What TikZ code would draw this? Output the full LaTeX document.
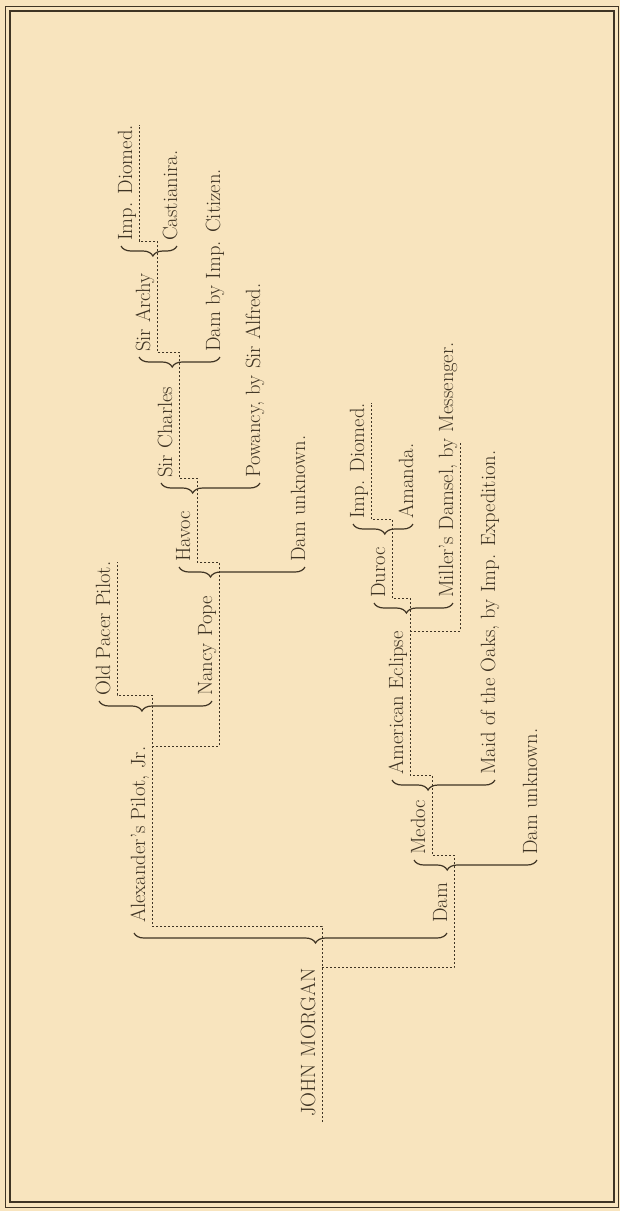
\documentclass[tikz,border=0pt]{standalone}
\usepackage{tikz}
\usetikzlibrary{positioning, calc, decorations.pathreplacing}
\definecolor{paper}{HTML}{F8E4BE}
\definecolor{ink}{HTML}{3F3424}

\begin{document}
\begin{tikzpicture}[x=1pt, y=-1pt,
                horse/.style={rotate=90, anchor=base west, inner sep=0pt, text=ink, font=\fontsize{20.6}{24}\selectfont},
                pedbrace/.style={draw=ink, line width=1.2pt, decorate, decoration={brace, amplitude=10pt, aspect=#1}},
                trace/.style={draw=ink, line width=1pt, dash pattern=on 2pt off 2pt},
                frame/.style={draw=ink}
            ]

            \fill[paper] (0,0) rectangle (620,1211);
            \useasboundingbox (0,0) rectangle (620,1211);
            \draw[frame, line width=0.7pt] (5,6) rectangle (618,1207);
            \draw[frame, line width=1.3pt] (10,11) rectangle (614,1202);

            % Namen
            \node[horse] (jm) at (315,1117) {JOHN MORGAN};
            \node[horse] (alex) at (145,923) {Alexander's Pilot, Jr.};
            \node[horse] (dam) at (447,923) {Dam};
            \node[horse] (oldpacer) at (110,696) {Old Pacer Pilot.};
            \node[horse] (nancy) at (212,696) {Nancy Pope};
            \node[horse] (havoc) at (190,562) {Havoc};
            \node[horse] (damunk) at (305,562) {Dam unknown.};
            \node[horse] (charles) at (172,478) {Sir Charles};
            \node[horse] (powancy) at (260,478) {Powancy, by Sir Alfred.};
            \node[horse] (archy) at (150,352) {Sir Archy};
            \node[horse] (citizen) at (220,352) {Dam by Imp. Citizen.};
            \node[horse] (diomeda) at (132,241) {Imp. Diomed.};
            \node[horse] (castianira) at (177,241) {Castianira.};
            \node[horse] (medoc) at (425,855) {Medoc};
            \node[horse] (damunkb) at (537,855) {Dam unknown.};
            \node[horse] (eclipse) at (403,775) {American Eclipse};
            \node[horse] (maid) at (495,775) {Maid of the Oaks, by Imp. Expedition.};
            \node[horse] (duroc) at (385,598) {Duroc};
            \node[horse] (miller) at (453,598) {Miller's Damsel, by Messenger.};
            \node[horse] (diomedb) at (364,519) {Imp. Diomed.};
            \node[horse] (amanda) at (413,519) {Amanda.};

            % Klammern (von Stute zu Hengst)
            \draw[pedbrace=0.42] ($(dam.base west)+(0,10)$) -- ($(alex.base west)+(-11,10)$);
            \draw[pedbrace=0.62] ($(nancy.base west)+(0,5)$) -- ($(oldpacer.base west)+(-11,5)$);
            \draw[pedbrace=0.75] ($(damunk.base west)+(0,5)$) -- ($(havoc.base west)+(-11,5)$);
            \draw[pedbrace=0.68] ($(powancy.base west)+(0,5)$) -- ($(charles.base west)+(-11,5)$);
            \draw[pedbrace=0.59] ($(citizen.base west)+(0,5)$) -- ($(archy.base west)+(-11,5)$);
            \draw[pedbrace=0.43] ($(castianira.base west)+(0,5)$) -- ($(diomeda.base west)+(-11,5)$);
            \draw[pedbrace=0.73] ($(damunkb.base west)+(0,5)$) -- ($(medoc.base west)+(-11,5)$);
            \draw[pedbrace=0.65] ($(maid.base west)+(0,5)$) -- ($(eclipse.base west)+(-11,5)$);
            \draw[pedbrace=0.59] ($(miller.base west)+(0,5)$) -- ($(duroc.base west)+(-11,5)$);
            \draw[pedbrace=0.47] ($(amanda.base west)+(0,5)$) -- ($(diomedb.base west)+(-11,5)$);

            % punktierte Linien
            \foreach \n in {dam, nancy, havoc, charles, archy, medoc, eclipse, duroc}
                \coordinate (\n-u) at ($(\n.base west)+(7,0)$);

            \draw[trace] ($(jm.base west)+(7,5)$) |- ($(alex.base west)+(7,3)$) |- ($(oldpacer.base west)+(7,-1)$) -- ($(oldpacer.base east)+(7,0)$);
            \draw[trace] ($(alex.base east)+(7,0)$) -| (nancy-u |- havoc.base west) -| (havoc-u |- charles.base west) -| (charles-u |- archy.base west) -| (archy-u |- diomeda.base west) -| ($(diomeda.base east)+(7,0)$);
            \draw[trace] ($(jm.base east)+(7,0)$) -| (dam-u |- medoc.base west) -| (medoc-u |- eclipse.base west) -| (eclipse-u |- duroc.base west) -| (duroc-u |- diomedb.base west) -| ($(diomedb.base east)+(7,0)$);
            \draw[trace] ($(eclipse.base east)+(7,0)$) -| ($(miller.base west)+(7,-155)$);

        \end{tikzpicture}
\end{document}
